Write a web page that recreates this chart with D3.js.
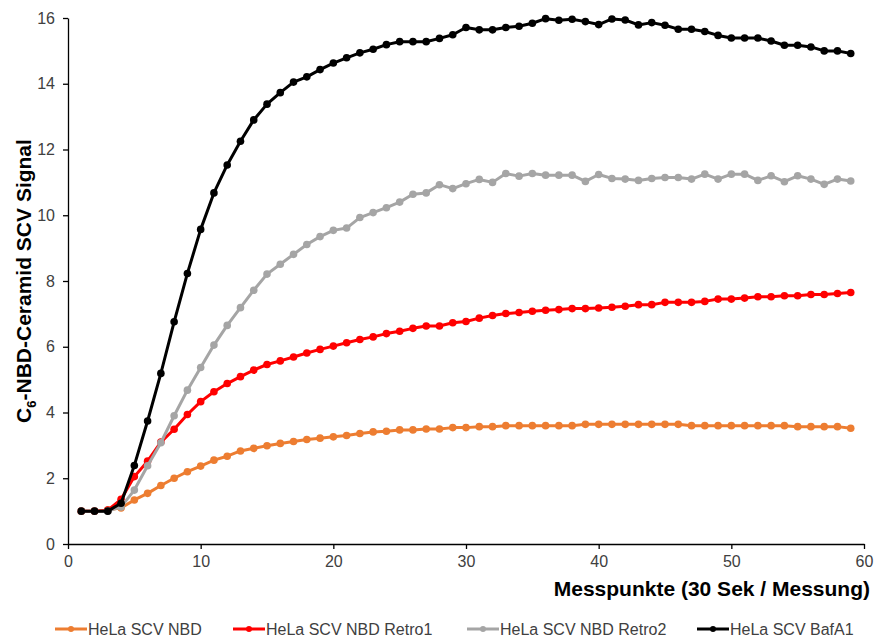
<!DOCTYPE html>
<html>
<head>
<meta charset="utf-8">
<script src="https://cdn.jsdelivr.net/npm/d3@7"></script>
<style>
  html, body { margin: 0; padding: 0; background: #fff; }
  svg { display: block; font-family: "Liberation Sans", Arial, sans-serif; }
</style>
</head>
<body>
<svg id="chart" width="875" height="639"></svg>
<script>
// Measurement points (one reading every 30 seconds)
const measurePoints = d3.range(1, 60);

const seriesNames = ["HeLa SCV NBD", "HeLa SCV NBD Retro1", "HeLa SCV NBD Retro2", "HeLa SCV BafA1"];
const seriesColors = ["#ED7D31", "#FF0000", "#A5A5A5", "#000000"];

const nbd = [1.0, 1.0, 1.03, 1.1, 1.34, 1.54, 1.78, 2.0, 2.2, 2.37,
  2.55, 2.67, 2.83, 2.91, 2.99, 3.06, 3.12, 3.18, 3.22, 3.26,
  3.3, 3.36, 3.41, 3.43, 3.47, 3.47, 3.5, 3.5, 3.54, 3.54,
  3.57, 3.57, 3.6, 3.6, 3.6, 3.6, 3.6, 3.6, 3.64, 3.64,
  3.64, 3.64, 3.64, 3.64, 3.64, 3.64, 3.6, 3.6, 3.6, 3.6,
  3.6, 3.6, 3.6, 3.6, 3.57, 3.57, 3.57, 3.57, 3.52];

const retro1 = [1.0, 1.0, 1.03, 1.36, 2.05, 2.52, 3.1, 3.49, 3.94, 4.33,
  4.63, 4.88, 5.09, 5.29, 5.46, 5.57, 5.69, 5.81, 5.92, 6.02,
  6.12, 6.22, 6.3, 6.4, 6.47, 6.56, 6.63, 6.63, 6.73, 6.77,
  6.87, 6.95, 7.01, 7.04, 7.08, 7.11, 7.13, 7.16, 7.16, 7.18,
  7.2, 7.23, 7.28, 7.28, 7.35, 7.35, 7.35, 7.38, 7.45, 7.45,
  7.48, 7.52, 7.52, 7.55, 7.55, 7.59, 7.59, 7.62, 7.65];

const retro2 = [1.0, 1.0, 1.0, 1.13, 1.64, 2.38, 3.08, 3.9, 4.68, 5.37,
  6.05, 6.65, 7.19, 7.72, 8.21, 8.51, 8.81, 9.11, 9.35, 9.54,
  9.61, 9.93, 10.08, 10.23, 10.4, 10.64, 10.68, 10.93, 10.81, 10.96,
  11.09, 11.0, 11.27, 11.19, 11.27, 11.22, 11.22, 11.22, 11.03, 11.24,
  11.12, 11.1, 11.06, 11.12, 11.15, 11.15, 11.1, 11.25, 11.1, 11.25,
  11.25, 11.06, 11.2, 11.02, 11.2, 11.1, 10.94, 11.1, 11.04];

const bafA1 = [1.0, 1.0, 1.0, 1.24, 2.39, 3.74, 5.19, 6.76, 8.23, 9.57,
  10.68, 11.53, 12.25, 12.9, 13.38, 13.73, 14.05, 14.21, 14.43, 14.63,
  14.79, 14.94, 15.05, 15.19, 15.28, 15.28, 15.28, 15.38, 15.49, 15.71,
  15.64, 15.64, 15.71, 15.75, 15.84, 15.98, 15.93, 15.96, 15.89, 15.8,
  15.97, 15.94, 15.79, 15.86, 15.78, 15.66, 15.66, 15.59, 15.47, 15.39,
  15.39, 15.39, 15.3, 15.17, 15.17, 15.12, 15.0, 15.0, 14.92];

const xTicks = [0, 10, 20, 30, 40, 50, 60];
const yTicks = [0, 2, 4, 6, 8, 10, 12, 14, 16];

const seriesValues = [nbd, retro1, retro2, bafA1];

const svg = d3.select("#chart");
const x = d3.scaleLinear().domain([0, 60]).range([68, 864]);
const y = d3.scaleLinear().domain([0, 16]).range([544, 18]);

const tickColor = "#404040";

// Y axis
const yAxis = svg.append("g")
  .attr("transform", `translate(${x(0)},0)`)
  .call(d3.axisLeft(y).tickValues(yTicks).tickSize(5).tickSizeOuter(0).tickPadding(8));
yAxis.select(".domain").attr("stroke", "#000").attr("stroke-width", 1.3);
yAxis.selectAll(".tick line").attr("stroke", "#000").attr("stroke-width", 1.3);
yAxis.selectAll(".tick text").attr("font-size", 16).attr("fill", tickColor)
  .attr("font-family", "Liberation Sans, Arial, sans-serif");

// X axis
const xAxis = svg.append("g")
  .attr("transform", `translate(0,${y(0)})`)
  .call(d3.axisBottom(x).tickValues(xTicks).tickSize(5).tickSizeOuter(0).tickPadding(7));
xAxis.select(".domain").attr("stroke", "#000").attr("stroke-width", 1.3);
xAxis.selectAll(".tick line").attr("stroke", "#000").attr("stroke-width", 1.3);
xAxis.selectAll(".tick text").attr("font-size", 16).attr("fill", tickColor)
  .attr("font-family", "Liberation Sans, Arial, sans-serif");

// Axis titles
svg.append("text")
  .attr("x", 870).attr("y", 596)
  .attr("text-anchor", "end")
  .attr("font-size", 21).attr("font-weight", "bold").attr("fill", "#000")
  .text("Messpunkte (30 Sek / Messung)");

const yTitle = svg.append("text")
  .attr("transform", "translate(31,281) rotate(-90)")
  .attr("text-anchor", "middle")
  .attr("font-size", 21).attr("font-weight", "bold").attr("fill", "#000");
yTitle.append("tspan").text("C");
yTitle.append("tspan").attr("font-size", 13).attr("dy", 5).text("6");
yTitle.append("tspan").attr("dy", -5).text("-NBD-Ceramid SCV Signal");

// Series lines and markers
const line = d3.line().x((d, i) => x(measurePoints[i])).y(d => y(d));

seriesValues.forEach((vals, s) => {
  const g = svg.append("g");
  g.append("path")
    .datum(vals)
    .attr("d", line)
    .attr("fill", "none")
    .attr("stroke", seriesColors[s])
    .attr("stroke-width", 3)
    .attr("stroke-linejoin", "round");
  g.selectAll("circle")
    .data(vals)
    .join("circle")
    .attr("cx", (d, i) => x(measurePoints[i]))
    .attr("cy", d => y(d))
    .attr("r", 3.8)
    .attr("fill", seriesColors[s]);
});

// Legend
const legendX = [55, 233, 467, 697];
const legend = svg.append("g");
seriesNames.forEach((name, s) => {
  const g = legend.append("g").attr("transform", `translate(${legendX[s]},629)`);
  g.append("line").attr("x1", 0).attr("x2", 32).attr("y1", 0).attr("y2", 0)
    .attr("stroke", seriesColors[s]).attr("stroke-width", 3);
  g.append("circle").attr("cx", 16).attr("cy", 0).attr("r", 3).attr("fill", seriesColors[s]);
  g.append("text").attr("x", 33).attr("y", 6)
    .attr("font-size", 16).attr("fill", tickColor)
    .text(name);
});
</script>
</body>
</html>
